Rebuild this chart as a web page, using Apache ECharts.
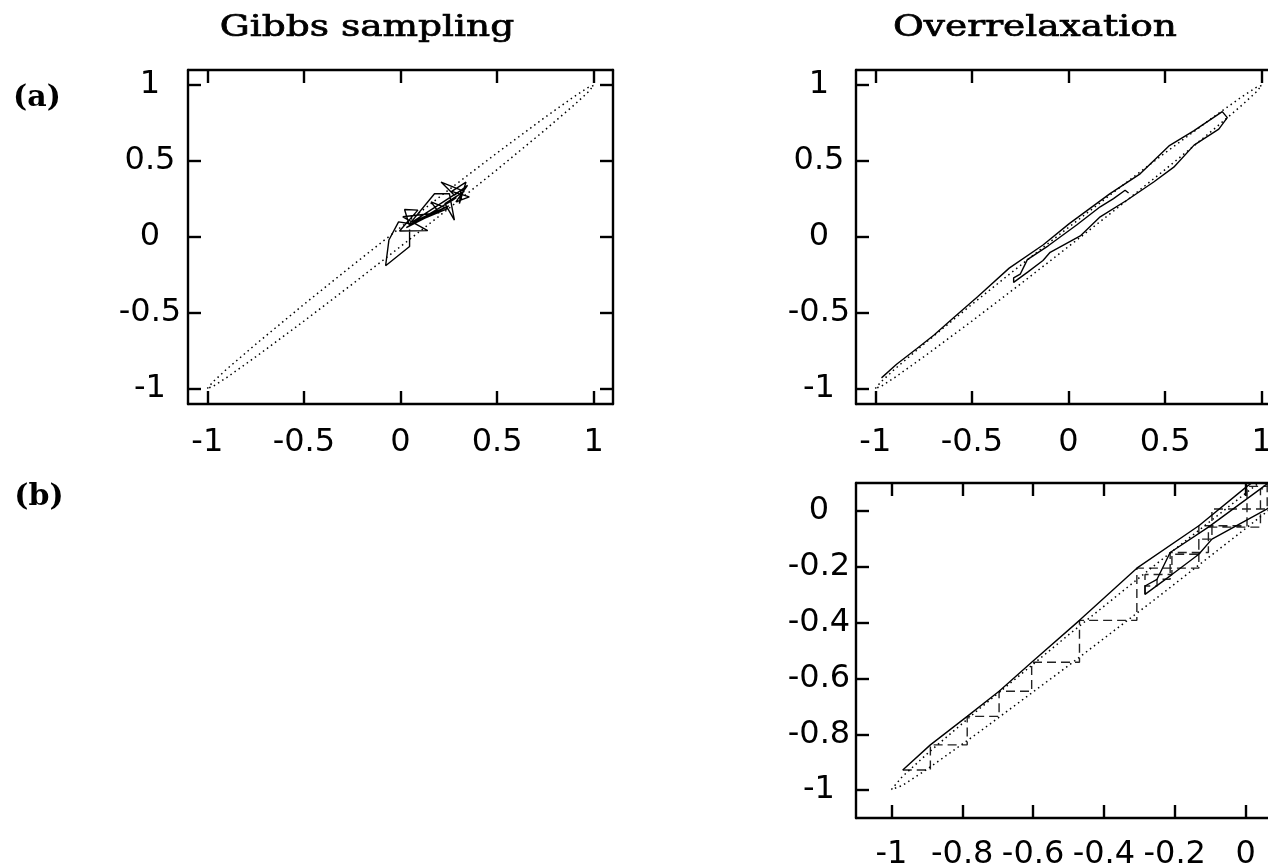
<!DOCTYPE html>
<html>
<head>
<meta charset="utf-8">
<script src="https://cdn.jsdelivr.net/npm/echarts@6/dist/echarts.min.js"></script>
<style>
html,body{margin:0;padding:0;background:#fff;}
#c{width:1268px;height:864px;}
</style>
</head>
<body>
<div id="c"></div>
<script>
// ---- data ----
const titles = ['Gibbs sampling', 'Overrelaxation'];
const panelLabels = ['(a)', '(b)'];

const ticksA = [-1, -0.5, 0, 0.5, 1];
const ticksBX = [-1, -0.8, -0.6, -0.4, -0.2, 0];
const ticksBY = [-1, -0.8, -0.6, -0.4, -0.2, 0];

// contour of the correlated Gaussian (closed thin ellipse)
const ellipseX = [-1, -0.97, -0.9, -0.75, -0.5, -0.25, 0, 0.25, 0.5, 0.75, 0.9, 0.97, 1,
                  0.97, 0.9, 0.75, 0.5, 0.25, 0, -0.25, -0.5, -0.75, -0.9, -0.97, -1];
const ellipseY = [-0.998, -0.953, -0.871, -0.707, -0.444, -0.188, 0.063, 0.311, 0.554, 0.790, 0.926, 0.984, 0.998,
                  0.953, 0.871, 0.707, 0.444, 0.188, -0.063, -0.311, -0.554, -0.790, -0.926, -0.984, -0.998];

// Gibbs sampling trajectory
const gibbsX = [0.047, 0.047, -0.077, -0.060, -0.010, 0.043, 0.021, 0.090, -0.005, 0.141, 0.012, 0.200,
                0.158, 0.244, 0.043, 0.176, 0.253, 0.279, 0.230, 0.330, 0.210, 0.279, 0.347, 0.287,
                0.356, 0.265, 0.339, 0.305, 0.313, 0.060, 0.250, 0.030, 0.272, 0.290];
const gibbsY = [0.050, -0.063, -0.189, -0.020, 0.100, 0.089, 0.181, 0.177, 0.040, 0.042, 0.133, 0.160,
                0.231, 0.187, 0.080, 0.285, 0.285, 0.111, 0.220, 0.300, 0.362, 0.275, 0.340, 0.231,
                0.264, 0.300, 0.362, 0.220, 0.307, 0.098, 0.205, 0.062, 0.245, 0.260];

// Overrelaxation trajectory (states after each full sweep)
const orX = [-0.968, -0.890, -0.786, -0.696, -0.604, -0.469, -0.307, -0.132, 0.004, 0.215, 0.371, 0.520, 0.648, 0.796,
             0.822, 0.778, 0.650, 0.545, 0.441, 0.302, 0.164, 0.061, -0.095, -0.132, -0.208, -0.284,
             -0.284, -0.250, -0.213, -0.105, 0.042, 0.164, 0.233, 0.293, 0.311];
const orY = [-0.928, -0.838, -0.736, -0.646, -0.542, -0.392, -0.205, -0.053, 0.088, 0.286, 0.416, 0.600, 0.699, 0.826,
             0.786, 0.710, 0.605, 0.460, 0.362, 0.242, 0.133, 0.007, -0.101, -0.155, -0.228, -0.299,
             -0.269, -0.245, -0.149, -0.058, 0.079, 0.199, 0.253, 0.308, 0.290];

// ---- helpers ----
const zip = (xs, ys) => xs.map((v, i) => [v, ys[i]]);
const LABEL_FONT = 'DejaVu Sans';

function axis(kind, grid, pos, min, max, ticks, showLabel, margin) {
  const a = {
    type: 'value', gridIndex: grid, position: pos, min: min, max: max,
    axisLine: {show: true, onZero: false, lineStyle: {color: '#000', width: 2.4}},
    axisTick: {show: true, inside: true, length: 13, customValues: ticks,
               lineStyle: {color: '#000', width: 2.4}},
    axisLabel: {show: showLabel, customValues: ticks, margin: margin, color: '#000',
                fontFamily: LABEL_FONT, fontSize: 32, hideOverlap: false},
    splitLine: {show: false}
  };
  if (kind === 'y') a.axisLabel.align = 'center';
  return a;
}

const xAxes = [
  axis('x', 0, 'bottom', -1.1, 1.1, ticksA, true, 23),
  axis('x', 0, 'top', -1.1, 1.1, ticksA, false, 0),
  axis('x', 1, 'bottom', -1.1, 1.1, ticksA, true, 23),
  axis('x', 1, 'top', -1.1, 1.1, ticksA, false, 0),
  axis('x', 2, 'bottom', -1.1, 0.1, ticksBX, true, 21),
  axis('x', 2, 'top', -1.1, 0.1, ticksBX, false, 0)
];
const yAxes = [
  axis('y', 0, 'left', -1.1, 1.1, ticksA, true, 38),
  axis('y', 0, 'right', -1.1, 1.1, ticksA, false, 0),
  axis('y', 1, 'left', -1.1, 1.1, ticksA, true, 37),
  axis('y', 1, 'right', -1.1, 1.1, ticksA, false, 0),
  axis('y', 2, 'left', -1.1, 0.1, ticksBY, true, 37),
  axis('y', 2, 'right', -1.1, 0.1, ticksBY, false, 0)
];

const dotted = {color: '#000', width: 1.5, type: [1.5, 3.5]};
const solid = {color: '#000', width: 1.4, type: 'solid'};
const dashed = {color: '#222', width: 1.4, type: [9, 5]};

function line(xi, yi, data, style, extra) {
  return Object.assign({
    type: 'line', xAxisIndex: xi, yAxisIndex: yi, data: data,
    symbol: 'none', showSymbol: false, smooth: false, silent: true,
    lineStyle: style, clip: true
  }, extra || {});
}

const series = [
  line(0, 0, zip(ellipseX, ellipseY), dotted),
  line(0, 0, zip(gibbsX, gibbsY), solid, {z: 3}),
  line(2, 2, zip(ellipseX, ellipseY), dotted),
  line(2, 2, zip(orX, orY), solid, {z: 3}),
  line(4, 4, zip(ellipseX, ellipseY), dotted),
  line(4, 4, zip(orX, orY), dashed, {step: 'end', z: 2}),
  line(4, 4, zip(orX, orY), solid, {z: 3})
];

function txt(x, y, s, font, scaleX, strokeW) {
  const st = {text: s, font: font, fill: '#000',
              textAlign: 'center', textVerticalAlign: 'middle',
              align: 'center', verticalAlign: 'middle'};
  if (strokeW) { st.stroke = '#000'; st.lineWidth = strokeW; }
  return {type: 'text', x: x, y: y, scaleX: scaleX || 1, silent: true, style: st};
}

const gridBase = {outerBoundsMode: 'none', containLabel: false};
const option = {
  animation: false,
  backgroundColor: '#fff',
  grid: [
    Object.assign({left: 188, top: 70, width: 425, height: 334}, gridBase),
    Object.assign({left: 856, top: 70, width: 425, height: 334}, gridBase),
    Object.assign({left: 856, top: 483, width: 425, height: 335}, gridBase)
  ],
  xAxis: xAxes,
  yAxis: yAxes,
  series: series,
  graphic: [
    txt(367, 28, titles[0], '30px "DejaVu Serif"', 1.25, 0.7),
    txt(1035, 28, titles[1], '30px "DejaVu Serif"', 1.25, 0.7),
    txt(37, 98, panelLabels[0], 'bold 30px "DejaVu Serif"', 1),
    txt(39, 497, panelLabels[1], 'bold 30px "DejaVu Serif"', 1)
  ]
};

const chart = echarts.init(document.getElementById('c'), null, {renderer: 'canvas'});
chart.setOption(option);
</script>
</body>
</html>
